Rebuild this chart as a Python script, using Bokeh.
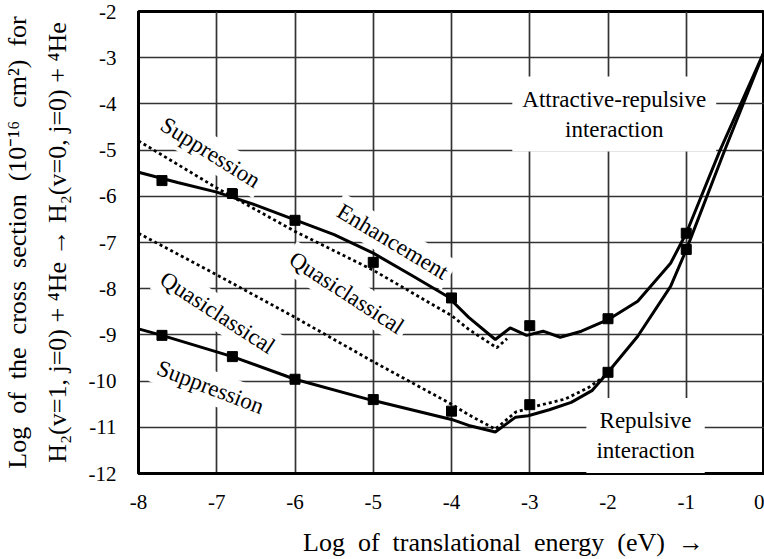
import math
from bokeh.plotting import figure
from bokeh.models import Label, FixedTicker
from bokeh.embed import file_html
from bokeh.resources import INLINE

# ---------------- data ----------------
x_ticks = [-8, -7, -6, -5, -4, -3, -2, -1, 0]
y_ticks = [-12, -11, -10, -9, -8, -7, -6, -5, -4, -3, -2]

# attractive-repulsive interaction (upper solid, "Enhancement")
upper_x = [-8.0, -7.5, -7.0, -6.5, -6.0, -5.5, -5.0, -4.5, -4.05, -3.78, -3.44,
           -3.25, -3.04, -2.83, -2.61, -2.34, -2.0, -1.62, -1.2, -1.0, -0.57, 0.0]
upper_y = [-5.48, -5.70, -5.91, -6.19, -6.51, -6.83, -7.23, -7.72, -8.17, -8.62, -9.10,
           -8.85, -9.01, -8.92, -9.05, -8.92, -8.67, -8.27, -7.45, -6.80, -5.01, -2.85]

# quasiclassical result for the attractive-repulsive case (upper dotted)
upper_qc_x = [-8.0, -7.0, -6.0, -5.0, -4.0, -3.78, -3.42, -3.29]
upper_qc_y = [-4.80, -5.82, -6.76, -7.60, -8.58, -8.88, -9.28, -9.08]

# repulsive interaction (lower solid, "Suppression")
lower_x = [-8.0, -7.7, -6.8, -6.0, -5.05, -4.0, -3.78, -3.44, -3.18, -3.02, -2.75,
           -2.47, -2.2, -2.0, -1.62, -1.2, -1.0, -0.51, 0.0]
lower_y = [-8.87, -9.01, -9.47, -9.96, -10.40, -10.83, -10.96, -11.10, -10.78, -10.75, -10.62,
           -10.46, -10.2, -9.81, -9.03, -7.95, -7.16, -5.01, -2.85]

# quasiclassical result for the repulsive case (lower dotted)
lower_qc_x = [-8.0, -7.0, -6.0, -5.0, -4.0, -3.78, -3.44, -3.18, -2.89, -2.55, -2.25, -2.04]
lower_qc_y = [-6.80, -7.70, -8.62, -9.58, -10.50, -10.73, -11.04, -10.67, -10.53, -10.39, -10.14, -9.89]

# square markers
sq_x = [-7.7, -6.8, -6.0, -5.0, -4.0, -3.0, -2.0, -1.0]
upper_sq_y = [-5.66, -5.94, -6.52, -7.43, -8.20, -8.80, -8.65, -6.80]
lower_sq_y = [-9.01, -9.47, -9.96, -10.40, -10.65, -10.51, -9.81, -7.15]

FONT = "Liberation Serif"

p = figure(width=764, height=559, x_range=(-8, 0), y_range=(-12, -2),
           output_backend="svg", toolbar_location=None,
           min_border_left=137, min_border_right=0, min_border_top=11,
           min_border_bottom=84)
p.background_fill_color = "white"
p.border_fill_color = "white"
p.outline_line_color = "black"
p.outline_line_width = 3

p.xaxis.ticker = FixedTicker(ticks=x_ticks)
p.yaxis.ticker = FixedTicker(ticks=y_ticks)
p.xgrid.ticker = FixedTicker(ticks=x_ticks)
p.ygrid.ticker = FixedTicker(ticks=y_ticks)
p.grid.grid_line_color = "#333333"
p.grid.grid_line_width = 1.7

for ax in (p.xaxis[0], p.yaxis[0]):
    ax.axis_line_color = "black"
    ax.axis_line_width = 3
    ax.major_tick_out = 0
    ax.major_tick_in = 0
    ax.minor_tick_out = 0
    ax.minor_tick_in = 0
    ax.major_label_text_font = FONT
    ax.major_label_text_font_size = "21px"
    ax.major_label_text_color = "black"
    ax.axis_label_text_font = FONT
    ax.axis_label_text_font_size = "26px"
    ax.axis_label_text_font_style = "normal"
    ax.axis_label_text_color = "black"

p.xaxis.major_label_overrides = {t: str(t) for t in x_ticks}
p.yaxis.major_label_overrides = {t: str(t) for t in y_ticks}

p.xaxis.major_label_standoff = 21
p.yaxis.major_label_standoff = 22

E = "\u2002"
p.xaxis.axis_label = "\u2003\u2003\u2003\u2003" + E.join(
    ["Log", "of", "translational", "energy", "(eV)", "\u2192"])
p.xaxis.axis_label_standoff = 16

line1 = E.join(["Log", "of", "the", "cross", "section", "(10\u207b\u00b9\u2076", "cm\u00b2)", "for"])
line2 = "H\u2082(v=1, j=0) + \u2074He \u2192 H\u2082(v=0, j=0) + \u2074He"
p.yaxis.axis_label = line1 + "\n" + line2
p.yaxis.axis_label_standoff = 14
p.yaxis.axis_label_text_line_height = 1.35

# curves
p.line(upper_qc_x, upper_qc_y, line_color="black", line_width=2.8, line_dash="3 3")
p.line(lower_qc_x, lower_qc_y, line_color="black", line_width=2.8, line_dash="3 3")
p.line(upper_x, upper_y, line_color="black", line_width=3)
p.line(lower_x, lower_y, line_color="black", line_width=3)
p.scatter(sq_x, upper_sq_y, marker="square", size=10, color="black")
p.scatter(sq_x, lower_sq_y, marker="square", size=10, color="black")

# annotations
ann = [
    ("Suppression", -7.08, -5.05, -32, 4),
    ("Enhancement", -4.75, -6.98, -31, 4),
    ("Quasiclassical", -5.34, -8.09, -33, 4),
    ("Quasiclassical", -6.99, -8.52, -33, 4),
    ("Suppression", -7.08, -10.13, -21, 4),
    ("Attractive-repulsive\ninteraction", -1.92, -4.22, 0, 10),
    ("Repulsive\ninteraction", -1.52, -11.18, 0, 10),
]
for txt, ax_, ay_, ang, pad in ann:
    p.add_layout(Label(x=ax_, y=ay_, text=txt, angle=math.radians(ang),
                       text_font=FONT, text_font_size="23px", text_color="black",
                       text_align="center", text_baseline="middle",
                       background_fill_color="white", padding=pad))

open("out.html", "w").write(file_html(p, INLINE))
